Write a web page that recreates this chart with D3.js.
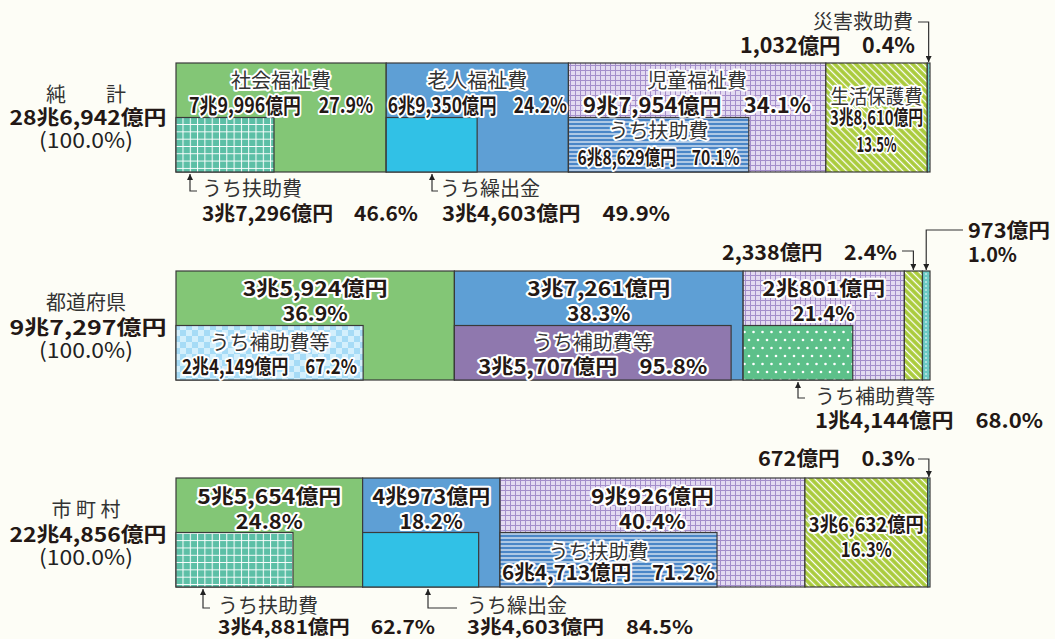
<!DOCTYPE html>
<html>
<head>
<meta charset="utf-8">
<script src="https://cdn.jsdelivr.net/npm/d3@7"></script>
<style>
  body { margin: 0; background: #fdfdf6; }
  svg text { font-family: "Noto Sans CJK JP", "Noto Sans", sans-serif; }
</style>
</head>
<body>
<svg id="chart" width="1055" height="639"></svg>
<script>
// ---- data (億円, %) ----
var rowNames = ["純　　計", "都道府県", "市 町 村"]
var rowTotals = [286942, 97297, 224856]
var categories = ["社会福祉費", "老人福祉費", "児童福祉費", "生活保護費", "災害救助費"]

var junkeiValues = [79996, 69350, 97954, 38610, 1032]
var junkeiPct = [27.9, 24.2, 34.1, 13.5, 0.4]
var todofukenValues = [35924, 37261, 20801, 2338, 973]
var todofukenPct = [36.9, 38.3, 21.4, 2.4, 1.0]
var shichosonValues = [55654, 40973, 90926, 36632, 672]
var shichosonPct = [24.8, 18.2, 40.4, 16.3, 0.3]

// "うち" sub items of the first three categories
var junkeiSubNames = ["うち扶助費", "うち繰出金", "うち扶助費"]
var junkeiSub = [37296, 34603, 68629]
var junkeiSubPct = [46.6, 49.9, 70.1]
var todofukenSubNames = ["うち補助費等", "うち補助費等", "うち補助費等"]
var todofukenSub = [24149, 35707, 14144]
var todofukenSubPct = [67.2, 95.8, 68.0]
var shichosonSubNames = ["うち扶助費", "うち繰出金", "うち扶助費"]
var shichosonSub = [34881, 34603, 64713]
var shichosonSubPct = [62.7, 84.5, 71.2]

var rows = [
  {values: junkeiValues, pct: junkeiPct, subNames: junkeiSubNames, sub: junkeiSub, subPct: junkeiSubPct},
  {values: todofukenValues, pct: todofukenPct, subNames: todofukenSubNames, sub: todofukenSub, subPct: todofukenSubPct},
  {values: shichosonValues, pct: shichosonPct, subNames: shichosonSubNames, sub: shichosonSub, subPct: shichosonSubPct}
]

// small stand-in for d3-selection-multi
d3.selection.prototype.attrs = function(o) {
  for (var k in o) this.attr(k, o[k])
  return this
}

// ---- helpers ----
function yen(v) {
  var cho = Math.floor(v / 10000), rest = v % 10000
  return (cho ? cho + "兆" : "") + d3.format(",")(rest) + "億円"
}
function pc(p) { return d3.format(".1f")(p) + "%" }

var svg = d3.select("#chart")
svg.append("rect").attr("width", 1055).attr("height", 639).attr("fill", "#fdfdf6")

var defs = svg.append("defs")
function pat(id, w, h, bg, tr) {
  var p = defs.append("pattern").attrs({id: id, patternUnits: "userSpaceOnUse", width: w, height: h})
  if (tr) p.attr("patternTransform", tr)
  p.append("rect").attrs({width: w, height: h, fill: bg})
  return p
}
var p
p = pat("pTealGrid", 7.3, 7.3, "#5cbfa6")
p.append("path").attrs({d: "M0,0.5H7.3M0.5,0V7.3", stroke: "#fff", "stroke-width": 1})
p = pat("pPurpleGrid", 5, 5, "#e3daf1")
p.append("path").attrs({d: "M0,0.5H5M0.5,0V5", stroke: "#a48ecb", "stroke-width": 1})
p = pat("pBlueStripe", 4, 4, "#4a86c7")
p.append("path").attrs({d: "M0,2H4", stroke: "#fff", "stroke-width": 1.1})
p = pat("pDiag", 5, 5, "#a9cb3b", "rotate(45)")
p.append("path").attrs({d: "M0,2.5H5", stroke: "#fff", "stroke-width": 1.3})
p = pat("pTealDots", 4, 4, "#6ccac5")
p.append("circle").attrs({cx: 2, cy: 2, r: 0.8, fill: "#fff"})
p = pat("pChecker", 12, 12, "#a6dbf6")
p.append("rect").attrs({x: 0, y: 0, width: 6, height: 6, fill: "#d3effc"})
p.append("rect").attrs({x: 6, y: 6, width: 6, height: 6, fill: "#d3effc"})
p = pat("pGreenDots", 9, 16, "#5dc08a")
p.append("circle").attrs({cx: 2, cy: 4, r: 1.3, fill: "#fff"})
p.append("circle").attrs({cx: 6.5, cy: 12, r: 1.3, fill: "#fff"})

defs.append("marker").attrs({id: "arr", viewBox: "0 -3 6 6", refX: 6, refY: 0,
    orient: "auto", markerWidth: 6, markerHeight: 6, markerUnits: "userSpaceOnUse"})
  .append("path").attr("d", "M0,-3L6,0L0,3Z").attr("fill", "#222")

var segFill = ["#83c676", "#5e9fd5", "url(#pPurpleGrid)", "url(#pDiag)", "url(#pTealDots)"]
var subFill = [
  ["url(#pTealGrid)", "#31c1e6", "url(#pBlueStripe)"],
  ["url(#pChecker)", "#8f78ae", "url(#pGreenDots)"],
  ["url(#pTealGrid)", "#31c1e6", "url(#pBlueStripe)"]
]

var x0 = 176, x1 = 930
var rowTop = [63, 271, 478]
var barH = 109

function txt(x, y, s, o) {
  o = o || {}
  var t = svg.append("text").attrs({x: x, y: y,
      "text-anchor": o.anchor || "middle",
      "font-size": o.size || 20,
      "font-weight": o.weight || 700,
      fill: o.fill || "#231815"}).text(s)
  if (o.halo) t.attrs({stroke: "#fff", "stroke-width": 4, "paint-order": "stroke", "stroke-linejoin": "round"})
  if (o.len) t.attrs({textLength: o.len, lengthAdjust: "spacingAndGlyphs"})
  return t
}
function arrow(d) {
  svg.append("path").attrs({d: d, fill: "none", stroke: "#333", "stroke-width": 1.2, "marker-end": "url(#arr)"})
}

// ---- bars ----
var seg = rows.map(function(r, i) {
  var x = d3.scaleLinear().domain([0, d3.sum(r.values)]).range([x0, x1])
  var starts = Array.from(d3.cumsum([0].concat(r.values))).slice(0, r.values.length)
  var top = rowTop[i]
  var g = svg.append("g")
  g.selectAll(".seg").data(r.values).enter().append("rect").attrs({
    "class": "seg",
    x: function(d, j) { return x(starts[j]) },
    y: top,
    width: function(d, j) { return x(starts[j] + d) - x(starts[j]) },
    height: barH,
    fill: function(d, j) { return segFill[j] },
    stroke: "#3a3a3a", "stroke-width": 1.2
  })
  g.selectAll(".sub").data(r.sub).enter().append("rect").attrs({
    "class": "sub",
    x: function(d, j) { return x(starts[j]) },
    y: top + barH / 2,
    width: function(d, j) { return x(d) - x(0) },
    height: barH / 2,
    fill: function(d, j) { return subFill[i][j] },
    stroke: "#3a3a3a", "stroke-width": 1.2
  })
  return {
    x: x,
    mid: function(j) { return (x(starts[j]) + x(starts[j] + r.values[j])) / 2 },
    start: function(j) { return x(starts[j]) },
    subMid: function(j) { return x(starts[j]) + (x(r.sub[j]) - x(0)) / 2 }
  }
})

// ---- left labels ----
var leftY = [[102, 125, 148], [310, 335, 358], [517, 542, 565]]
rows.forEach(function(r, i) {
  txt(86, leftY[i][0], rowNames[i], {weight: 400, fill: "#333", size: 20})
  txt(88, leftY[i][1], yen(rowTotals[i]), {len: 157, size: 20})
  txt(86, leftY[i][2], "(" + pc(100) + ")", {size: 21, weight: 400, fill: "#222", len: 94})
})

// ---- row 1: 純計 ----
var r = rows[0], s = seg[0], t = rowTop[0]
txt(s.mid(0), t + 25, categories[0], {weight: 400, fill: "#333", halo: true})
txt(s.mid(0), t + 50, yen(r.values[0]) + "　" + pc(r.pct[0]), {halo: true, size: 21, len: 184})
txt(s.mid(1), t + 25, categories[1], {weight: 400, fill: "#333", halo: true})
txt(s.mid(1), t + 50, yen(r.values[1]) + "　" + pc(r.pct[1]), {halo: true, size: 21, len: 179})
txt(s.mid(2), t + 25, categories[2], {weight: 400, fill: "#333", halo: true})
txt(s.mid(2), t + 50, yen(r.values[2]) + "　" + pc(r.pct[2]), {halo: true, size: 21, len: 228})
txt(s.subMid(2), t + 75, r.subNames[2], {weight: 400, fill: "#333", halo: true})
txt(s.subMid(2), t + 102, yen(r.sub[2]) + "　" + pc(r.subPct[2]), {halo: true, size: 20, len: 162})
txt(s.mid(3), t + 41, categories[3], {weight: 400, fill: "#333", halo: true, size: 20, len: 92})
txt(s.mid(3), t + 62, yen(r.values[3]), {halo: true, size: 20, len: 93})
txt(s.mid(3), t + 89, pc(r.pct[3]), {halo: true, size: 20, len: 40})
txt(913, 29, categories[4], {anchor: "end", weight: 400, fill: "#333", size: 20})
txt(915, 53, yen(r.values[4]) + "　" + pc(r.pct[4]), {anchor: "end", size: 21, len: 175})
arrow("M918," + 22 + "H" + s.mid(4) + "V" + (t - 1))
// sub annotations below
arrow("M197,191H190V" + (t + barH + 2))
txt(202, 196, r.subNames[0], {anchor: "start", weight: 400, fill: "#333"})
txt(202, 221, yen(r.sub[0]) + "　" + pc(r.subPct[0]), {anchor: "start", len: 216})
arrow("M438,191H432V" + (t + barH + 2))
txt(440, 196, r.subNames[1], {anchor: "start", weight: 400, fill: "#333"})
txt(442, 221, yen(r.sub[1]) + "　" + pc(r.subPct[1]), {anchor: "start", len: 228})

// ---- row 2: 都道府県 ----
r = rows[1]; s = seg[1]; t = rowTop[1]
txt(s.mid(0), t + 25, yen(r.values[0]), {halo: true, len: 145})
txt(s.mid(0), t + 50, pc(r.pct[0]), {halo: true, len: 65})
txt(s.subMid(0), t + 79, r.subNames[0], {weight: 400, fill: "#333", halo: true})
txt(s.subMid(0), t + 103, yen(r.sub[0]) + "　" + pc(r.subPct[0]), {halo: true, size: 20, len: 175})
txt(s.mid(1), t + 25, yen(r.values[1]), {halo: true, len: 143})
txt(s.mid(1), t + 50, pc(r.pct[1]), {halo: true, len: 63})
txt(s.subMid(1), t + 79, r.subNames[1], {weight: 400, fill: "#333", halo: true})
txt(s.subMid(1), t + 103, yen(r.sub[1]) + "　" + pc(r.subPct[1]), {halo: true, len: 229})
txt(s.mid(2), t + 25, yen(r.values[2]), {halo: true, len: 123})
txt(s.mid(2), t + 50, pc(r.pct[2]), {halo: true, len: 62})
txt(897, 260, yen(r.values[3]) + "　" + pc(r.pct[3]), {anchor: "end", len: 175})
arrow("M902,251H" + s.mid(3) + "V" + (t - 1))
txt(968, 238, yen(r.values[4]), {anchor: "start", len: 82})
txt(968, 262, pc(r.pct[4]), {anchor: "start", len: 49})
arrow("M963,230H" + s.mid(4) + "V" + (t - 1))
arrow("M805,398H798V" + (t + barH + 2))
txt(815, 404, r.subNames[2], {anchor: "start", weight: 400, fill: "#333"})
txt(815, 428, yen(r.sub[2]) + "　" + pc(r.subPct[2]), {anchor: "start", len: 228})

// ---- row 3: 市町村 ----
r = rows[2]; s = seg[2]; t = rowTop[2]
txt(s.mid(0), t + 26, yen(r.values[0]), {halo: true, len: 144})
txt(s.mid(0), t + 51, pc(r.pct[0]), {halo: true, len: 67})
txt(s.mid(1), t + 26, yen(r.values[1]), {halo: true, len: 118})
txt(s.mid(1), t + 51, pc(r.pct[1]), {halo: true, len: 63})
txt(s.mid(2), t + 26, yen(r.values[2]), {halo: true, len: 123})
txt(s.mid(2), t + 51, pc(r.pct[2]), {halo: true, len: 67})
txt(s.subMid(2) - 10, t + 81, r.subNames[2], {weight: 400, fill: "#333", halo: true})
txt(s.subMid(2), t + 102, yen(r.sub[2]) + "　" + pc(r.subPct[2]), {halo: true, len: 213})
txt(s.mid(3), t + 54, yen(r.values[3]), {halo: true, size: 20, len: 115})
txt(s.mid(3), t + 79, pc(r.pct[3]), {halo: true, size: 20, len: 51})
txt(915, 466, yen(r.values[4]) + "　" + pc(r.pct[4]), {anchor: "end", len: 157})
arrow("M918,459H" + s.mid(4) + "V" + (t - 1))
arrow("M210,608H203V" + (t + barH + 2))
txt(218, 613, r.subNames[0], {anchor: "start", weight: 400, fill: "#333"})
txt(218, 634, yen(r.sub[0]) + "　" + pc(r.subPct[0]), {anchor: "start", size: 19, len: 217})
arrow("M457,608H428V" + (t + barH + 2))
txt(467, 613, r.subNames[1], {anchor: "start", weight: 400, fill: "#333"})
txt(467, 634, yen(r.sub[1]) + "　" + pc(r.subPct[1]), {anchor: "start", size: 19, len: 226})
</script>
</body>
</html>
